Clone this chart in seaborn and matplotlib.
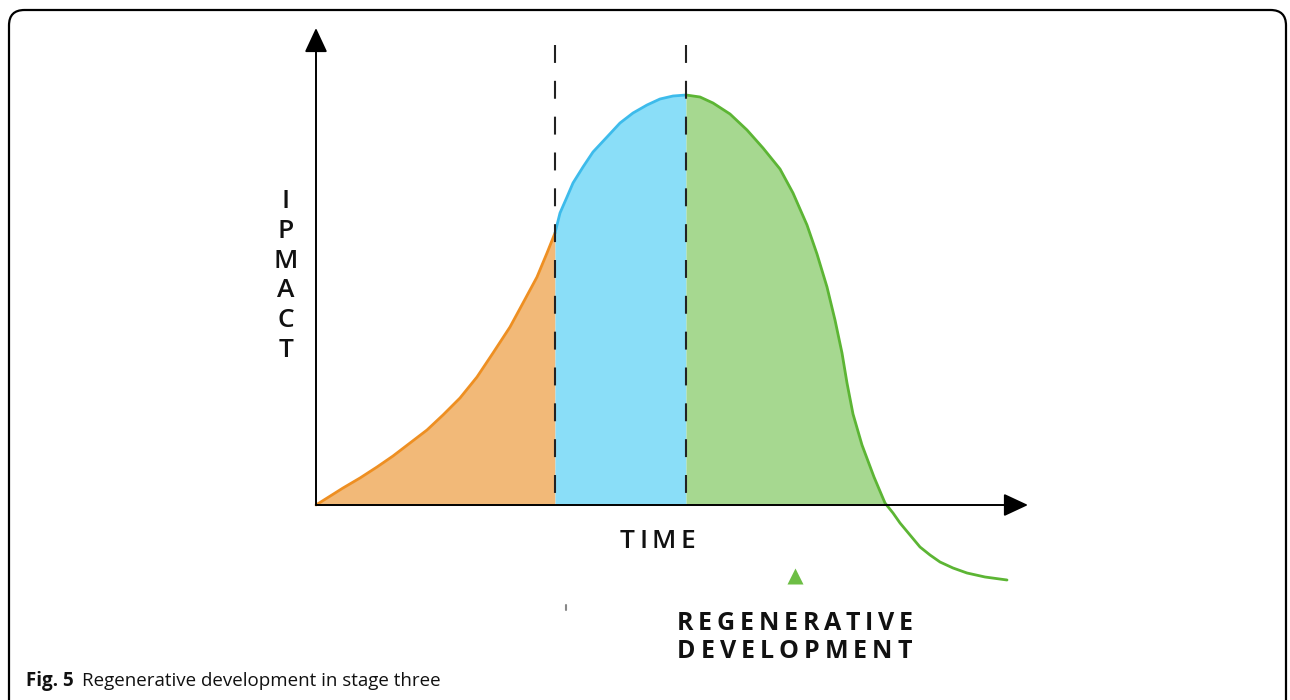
import numpy as np
import matplotlib
matplotlib.use("Agg")
import matplotlib.pyplot as plt
import matplotlib.transforms as mtransforms
from matplotlib.patches import FancyBboxPatch
import seaborn as sns

# Curve (time, impact), one segment per stage
early_x = [0.00, 0.27, 0.44, 0.61, 0.77, 0.94, 1.11, 1.27, 1.44, 1.61, 1.77, 1.94, 2.07, 2.21, 2.31, 2.39]
early_y = [0.00, 0.17, 0.27, 0.38, 0.49, 0.62, 0.75, 0.90, 1.07, 1.28, 1.52, 1.78, 2.02, 2.28, 2.52, 2.72]

mid_x = [2.39, 2.44, 2.51, 2.57, 2.67, 2.77, 2.91, 3.04, 3.17, 3.31, 3.44, 3.57, 3.70]
mid_y = [2.72, 2.92, 3.08, 3.22, 3.38, 3.53, 3.68, 3.82, 3.92, 4.00, 4.06, 4.09, 4.10]

late_x = [3.70, 3.84, 3.97, 4.14, 4.31, 4.47, 4.64, 4.77, 4.91, 5.01, 5.11, 5.19,
          5.26, 5.31, 5.37, 5.46, 5.58, 5.69, 5.77, 5.84, 5.94, 6.04, 6.14,
          6.24, 6.37, 6.51, 6.69, 6.91]
late_y = [4.10, 4.08, 4.02, 3.91, 3.75, 3.57, 3.36, 3.12, 2.80, 2.51, 2.18, 1.85,
          1.52, 1.22, 0.91, 0.60, 0.28, 0.02, -0.08, -0.18, -0.30, -0.42, -0.50,
          -0.57, -0.63, -0.68, -0.72, -0.75]

stage_edges = [2.39, 3.70]
axis_ends = [7.12, 4.77]

y_letters = list("IPMACT")
x_label = "TIME"
stage_label = ["REGENERATIVE", "DEVELOPMENT"]
caption_bold = "Fig. 5"
caption_rest = "Regenerative development in stage three"

orange_fill, orange_line = "#F2B978", "#EE8F22"
blue_fill, blue_line = "#8ADEF8", "#3DBBEB"
green_fill, green_line = "#A6D890", "#5CB534"

sns.set_theme(style="white")
plt.rcParams["font.family"] = ["Open Sans", "DejaVu Sans"]

fig = plt.figure(figsize=(12.9, 7.0), dpi=100)
ax = fig.add_axes([0, 0, 1, 1])
ax.set_xlim(-3.16, 9.74)
ax.set_ylim(-1.95, 5.05)
ax.axis("off")

# Outer frame
frame = FancyBboxPatch((9 / 1290, -0.1), (1286 - 9) / 1290, 1.1 - 10 / 700,
                       boxstyle="round,pad=0,rounding_size=0.012",
                       transform=fig.transFigure, fill=False, lw=1.6,
                       ec="black", mutation_aspect=1290 / 700, zorder=0)
fig.patches.append(frame)

# Filled stages
ax.fill_between(early_x, early_y, 0, color=orange_fill, lw=0, zorder=1)
ax.fill_between(mid_x, mid_y, 0, color=blue_fill, lw=0, zorder=1)
late_y_arr = np.array(late_y)
ax.fill_between(late_x, late_y_arr, 0, where=late_y_arr >= 0, interpolate=True,
                color=green_fill, lw=0, zorder=1)

line_kw = dict(ax=ax, lw=2, sort=False, zorder=3, solid_joinstyle="round", solid_capstyle="round")
sns.lineplot(x=early_x, y=early_y, color=orange_line, **line_kw)
sns.lineplot(x=mid_x, y=mid_y, color=blue_line, **line_kw)
sns.lineplot(x=late_x, y=late_y, color=green_line, **line_kw)

# Stage dividers
for xe in stage_edges:
    ax.plot([xe, xe], [4.60, 0], color="#222222", lw=1.5,
            dashes=(8.6, 8.6), zorder=4)

# Axes with arrows
arrow = dict(arrowstyle="-|>,head_length=0.75,head_width=0.35", color="black",
             lw=1.4, shrinkA=0, shrinkB=0, mutation_scale=20)
ax.annotate("", xy=(0, axis_ends[1]), xytext=(0, 0), arrowprops=arrow, zorder=5)
ax.annotate("", xy=(axis_ends[0], 0), xytext=(0, 0), arrowprops=arrow, zorder=5)

renderer = fig.canvas.get_renderer()


def spaced(x, y, s, width_px, **kw):
    # draw letters one by one so the word spans width_px
    texts, widths = [], []
    for ch in s:
        t = ax.text(x, y, ch, **kw)
        texts.append(t)
        widths.append(t.get_window_extent(renderer).width)
    gap = (width_px - sum(widths)) / max(len(s) - 1, 1)
    off = 0
    for t, w in zip(texts, widths):
        t.set_transform(mtransforms.offset_copy(ax.transData, fig=fig, x=off, y=0, units="dots"))
        off += w + gap


ax.text(-0.30, 2.29, "\n".join(y_letters), ha="center", va="center",
        fontsize=19, fontweight="semibold", linespacing=1.25, color="#111111")
spaced(3.04, -0.43, x_label, 75, fontsize=19, fontweight="semibold", color="#111111")
spaced(3.61, -1.25, stage_label[0], 236, fontsize=18, fontweight="bold", color="#111111")
spaced(3.61, -1.53, stage_label[1], 235, fontsize=18, fontweight="bold", color="#111111")

ax.plot([4.79], [-0.71], marker="^", ms=12, color="#6DBE45", mec="none")
ax.plot([2.50, 2.50], [-1.00, -1.05], color="#888888", lw=1.5)

cap = fig.text(26 / 1290, 0.02, caption_bold, fontsize=13.5, fontweight="bold", color="#111111")
cap_end = cap.get_window_extent(renderer).x1
fig.text((cap_end + 8) / 1290, 0.02, caption_rest, fontsize=13.5, color="#111111")

fig.savefig("out.png", dpi=100)
